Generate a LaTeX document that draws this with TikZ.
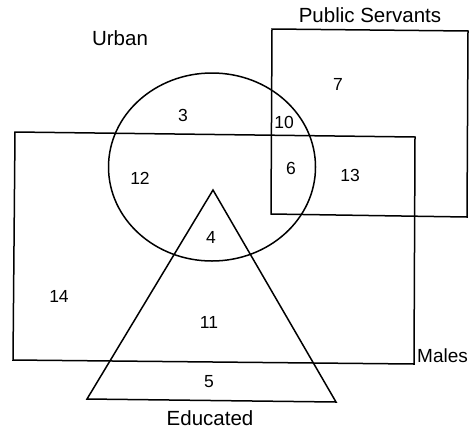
\documentclass[tikz,border=0pt]{standalone}
\usepackage{fontspec}
\setmainfont{Liberation Sans}
\begin{document}
\begin{tikzpicture}[x=1pt,y=-1pt,
  shape line/.style={draw=black,line width=1.5pt,line join=miter},
  lbl/.style={inner sep=0pt,font=\fontsize{20.5}{24}\selectfont},
  num/.style={inner sep=0pt,font=\fontsize{17.5}{20}\selectfont}]
\useasboundingbox (0,0) rectangle (470,434);
% Public Servants box
\draw[shape line] (272,29) -- (468,31) -- (467,217) -- (271,214) -- cycle;
% Males box
\draw[shape line] (15,132) -- (415,137) -- (414,364) -- (13,360) -- cycle;
% Urban circle
\draw[shape line] (212,167) ellipse [x radius=103.5, y radius=94];
% Educated triangle
\draw[shape line] (213,190) -- (336,402) -- (87,399) -- cycle;
% labels
\node[lbl] (urban) at (120,38) {Urban};
\node[lbl] (ps) at (370,15) {Public Servants};
\node[lbl,anchor=west,font=\fontsize{19}{22}\selectfont] (males) at (417,356) {Males};
\node[lbl] (edu) at (210,418) {Educated};
% numbers
\node[num] (n7) at (338,84) {7};
\node[num] (n3) at (183,115) {3};
\node[num] (n10) at (284,122) {10};
\node[num] (n6) at (291,168) {6};
\node[num] (n13) at (350,175) {13};
\node[num] (n12) at (140,178) {12};
\node[num] (n4) at (211,237) {4};
\node[num] (n14) at (59,296) {14};
\node[num] (n11) at (209,322) {11};
\node[num] (n5) at (209,382) {5};
\end{tikzpicture}
\end{document}
